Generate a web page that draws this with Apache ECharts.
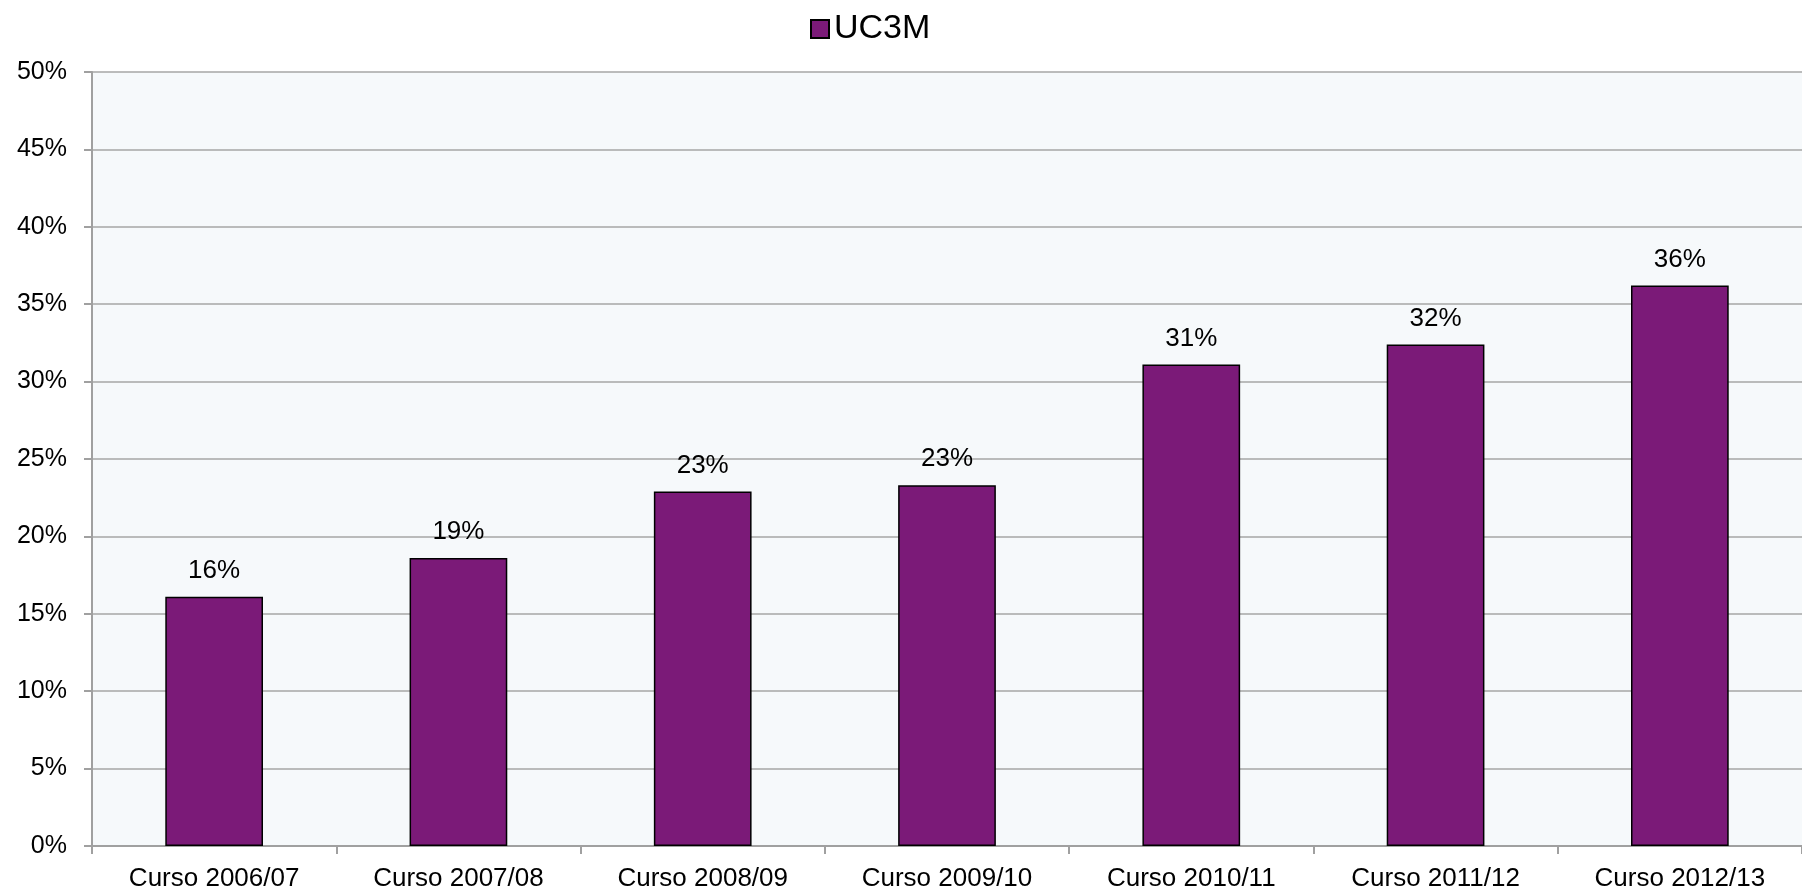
<!DOCTYPE html>
<html lang="es">
<head>
  <meta charset="UTF-8">
  <title>UC3M</title>
  <style>
    html, body { margin: 0; padding: 0; background: #fff; }
  </style>
</head>
<body>
  <div id="main" style="width: 1802px; height: 895px"></div>
  <script src="https://cdn.jsdelivr.net/npm/echarts@6/dist/echarts.min.js"></script>
  <script>
    // datos
    const cursos = ['Curso 2006/07', 'Curso 2007/08', 'Curso 2008/09', 'Curso 2009/10', 'Curso 2010/11', 'Curso 2011/12', 'Curso 2012/13'];
    const uc3m = [0.161, 0.186, 0.229, 0.233, 0.311, 0.324, 0.362];
    const serieNombre = 'UC3M';

    const fuente = '"Liberation Sans", Arial, sans-serif';
    let myChart = echarts.init(document.getElementById('main'));
    let option = {
      animation: false,
      textStyle: { fontFamily: fuente },
      legend: {
        data: [serieNombre],
        top: 7,
        left: 805,
        itemWidth: 18,
        itemHeight: 18,
        itemGap: 8,
        icon: 'rect',
        textStyle: { fontSize: 34, color: '#000', fontFamily: fuente }
      },
      grid: {
        left: 92, right: 0, top: 72, bottom: 49,
        show: true, backgroundColor: '#F6F9FB', borderWidth: 0
      },
      xAxis: {
        type: 'category',
        data: cursos,
        axisLine: { lineStyle: { color: '#A0A0A0', width: 2 } },
        axisTick: { show: true, length: 8, lineStyle: { color: '#A0A0A0', width: 2 } },
        axisLabel: { color: '#000', fontSize: 26, margin: 20, fontFamily: fuente }
      },
      yAxis: {
        type: 'value',
        min: 0, max: 0.5, interval: 0.05,
        axisLine: { show: true, lineStyle: { color: '#A0A0A0', width: 2 } },
        axisTick: { show: true, length: 8, lineStyle: { color: '#A0A0A0', width: 2 } },
        splitLine: { lineStyle: { color: '#A6A6A6', width: 1.5 } },
        axisLabel: {
          color: '#000', fontSize: 25, margin: 25, fontFamily: fuente,
          formatter: v => Math.round(v * 100) + '%'
        }
      },
      series: [{
        name: serieNombre,
        type: 'bar',
        data: uc3m,
        barWidth: '40%',
        itemStyle: { color: '#7B1A78', borderColor: '#000', borderWidth: 1.5 },
        label: {
          show: true, position: 'top', distance: 13,
          color: '#000', fontSize: 26, fontFamily: fuente,
          formatter: p => Math.round(p.value * 100) + '%'
        }
      }]
    };
    myChart.setOption(option);
  </script>
</body>
</html>
